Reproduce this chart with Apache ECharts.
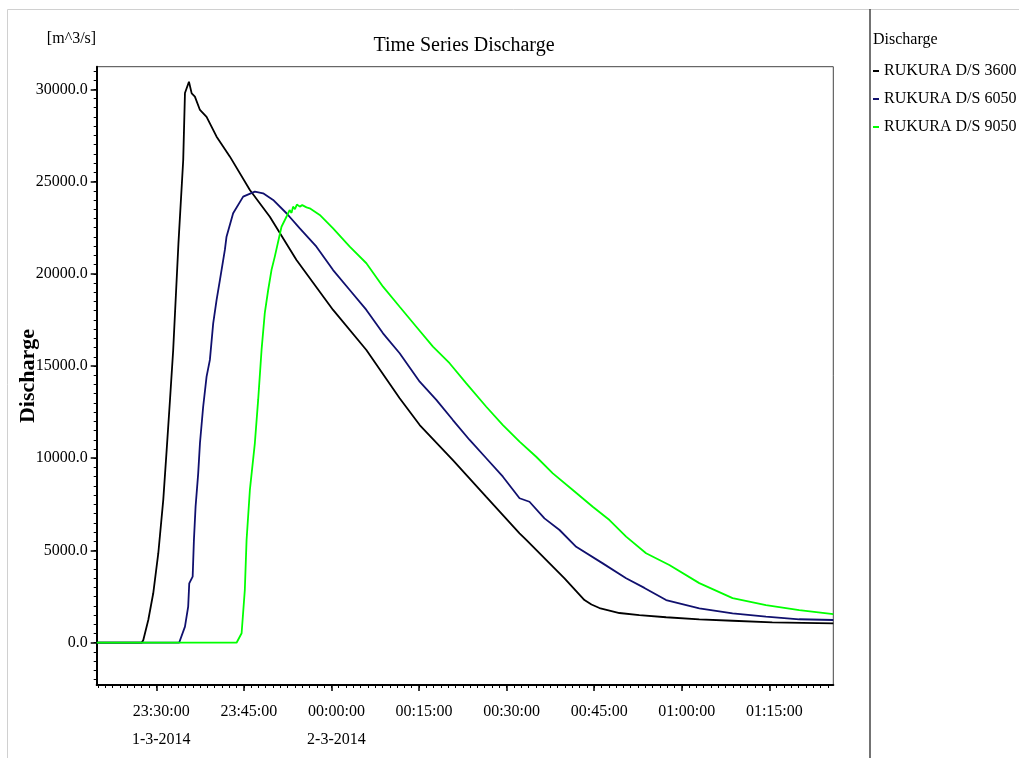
<!DOCTYPE html>
<html><head><meta charset="utf-8">
<script src="https://cdn.jsdelivr.net/npm/echarts@6/dist/echarts.min.js"></script>
<style>html,body{margin:0;padding:0;background:#fff;}#c{width:1019px;height:758px;}</style>
</head><body><div id="c"></div>
<script>
const seriesNames = ["RUKURA D/S 3600", "RUKURA D/S 6050", "RUKURA D/S 9050"];
const seriesColors = ["#000000", "#10106e", "#00ff00"];

const timeBlack = ["23:19:48","23:27:30","23:27:47","23:28:38","23:29:29","23:30:21","23:31:12","23:31:47","23:32:21","23:32:54","23:33:48","23:34:37","23:34:55","23:35:36","23:36:04","23:36:37","23:37:29","23:38:37","23:40:20","23:42:37","23:46:02","23:49:27","23:54:01","00:00:17","00:05:59","00:11:41","00:15:07","00:20:48","00:26:31","00:32:13","00:33:22","00:39:55","00:43:20","00:44:32","00:45:54","00:47:37","00:49:19","00:52:44","00:57:19","01:03:00","01:08:42","01:15:30","01:25:57"];
const valBlack = [0,0,150,1230,2680,4850,7740,10450,13160,15870,21650,26170,29800,30410,29780,29600,28880,28510,27430,26350,24540,23090,20750,18040,15870,13250,11800,9900,7910,5930,5570,3490,2310,2070,1880,1745,1610,1500,1380,1260,1190,1105,1050];

const timeBlue = ["23:19:48","23:33:55","23:34:55","23:35:28","23:35:39","23:36:14","23:36:27","23:36:44","23:37:11","23:37:29","23:38:02","23:38:37","23:39:11","23:39:45","23:40:20","23:40:54","23:41:45","23:42:02","23:43:10","23:44:53","23:46:53","23:48:18","23:50:01","23:52:18","23:54:35","23:57:26","00:00:17","00:03:08","00:05:59","00:08:50","00:11:41","00:15:07","00:17:58","00:20:48","00:23:40","00:26:31","00:29:22","00:32:13","00:33:55","00:36:29","00:39:04","00:41:55","00:46:28","00:50:28","00:53:36","00:57:19","01:03:00","01:08:42","01:14:25","01:20:07","01:25:57"];
const valBlue = [0,0,870,1950,3220,3580,5570,7370,9180,10810,12790,14420,15330,17310,18580,19660,21290,22010,23280,24180,24450,24360,24000,23280,22460,21470,20200,19120,18040,16770,15690,14150,13160,12070,10990,10000,9000,7830,7640,6740,6110,5200,4300,3490,2970,2310,1860,1590,1410,1270,1230];

const timeGreen = ["23:19:48","23:43:45","23:44:37","23:45:10","23:45:28","23:46:02","23:46:53","23:47:27","23:48:02","23:48:35","23:49:10","23:49:44","23:50:18","23:51:27","23:52:18","23:52:50","23:53:10","23:53:26","23:53:45","23:54:05","23:54:35","23:55:00","23:55:44","23:56:17","23:58:00","00:00:17","00:03:08","00:05:59","00:08:50","00:11:41","00:14:32","00:17:23","00:20:14","00:23:06","00:26:31","00:29:22","00:32:13","00:35:04","00:37:55","00:41:20","00:44:45","00:47:37","00:50:28","00:53:53","00:57:52","01:03:00","01:08:42","01:14:25","01:20:07","01:25:57"];
const valGreen = [0,0,510,2860,5570,8280,10810,13160,15870,17860,19120,20200,20930,22550,23090,23450,23300,23640,23500,23750,23640,23720,23600,23550,23190,22460,21470,20570,19300,18210,17130,16050,15150,14060,12790,11800,10900,10080,9180,8280,7370,6650,5750,4850,4210,3230,2420,2040,1770,1550];

const xTickLabels = ["23:30:00","23:45:00","00:00:00","00:15:00","00:30:00","00:45:00","01:00:00","01:15:00"];
const xDateTicks = ["23:30:00","00:00:00"];
const xDateLabels = ["1-3-2014","2-3-2014"];
const yTickValues = [0,5000,10000,15000,20000,25000,30000];
const xRange = ["23:19:48","01:25:57"];
const yRange = [-2293, 31225];
const xMinorStepSec = 75;
const yMinorStep = 500;

const FONT = "Liberation Serif";
function toSec(hms){const p=hms.split(':').map(Number);let v=p[0]*3600+p[1]*60+p[2];if(p[0]<12)v+=86400;return v;}
function pad(n){return (n<10?'0':'')+n;}
function fmt(v){v=Math.round(v);const d=((v%86400)+86400)%86400;return pad(Math.floor(d/3600))+':'+pad(Math.floor(d%3600/60))+':'+pad(d%60);}

const xMin=toSec(xRange[0]), xMax=toSec(xRange[1]);
const xMajor=xTickLabels.map(toSec);
const xMinor=[];
for(let s=Math.ceil(xMin/xMinorStepSec)*xMinorStepSec;s<=xMax;s+=xMinorStepSec){xMinor.push(s);}
const yMinor=[];
for(let v=Math.ceil(yRange[0]/yMinorStep)*yMinorStep;v<=yRange[1];v+=yMinorStep){yMinor.push(v);}

function mk(times,vals){return times.map((t,i)=>[toSec(t),vals[i]]);}
const allData=[mk(timeBlack,valBlack),mk(timeBlue,valBlue),mk(timeGreen,valGreen)];

const chart=echarts.init(document.getElementById('c'),null,{renderer:'canvas'});
const txt={fontFamily:FONT,color:'#000'};
chart.setOption({
  animation:false,
  backgroundColor:'#fff',
  grid:{left:96.7,right:185.7,top:66.7,bottom:73,show:true,borderColor:'#444',borderWidth:1,backgroundColor:'#fff'},
  xAxis:[{
    type:'value',min:xMin,max:xMax,
    axisLine:{show:true,onZero:false,lineStyle:{color:'#000',width:2}},
    axisTick:{show:true,customValues:xMajor,length:6,lineStyle:{color:'#000',width:1.5}},
    axisLabel:Object.assign({customValues:xMajor,fontSize:16,lineHeight:28,margin:13,padding:[0,0,0,10],
      formatter:function(v){const s=fmt(v);const k=xDateTicks.indexOf(s);return k>=0?s+'\n'+xDateLabels[k]:s;}},txt),
    splitLine:{show:false}
  },{
    type:'value',min:xMin,max:xMax,position:'bottom',
    axisLine:{show:false,onZero:false},
    axisTick:{show:true,customValues:xMinor,length:3,lineStyle:{color:'#000',width:1}},
    axisLabel:{show:false},splitLine:{show:false}
  }],
  yAxis:[{
    type:'value',min:yRange[0],max:yRange[1],
    axisLine:{show:true,onZero:false,lineStyle:{color:'#000',width:2}},
    axisTick:{show:true,customValues:yTickValues,length:6,lineStyle:{color:'#000',width:1.5}},
    axisLabel:Object.assign({customValues:yTickValues,fontSize:16,margin:9,formatter:v=>v.toFixed(1)},txt),
    splitLine:{show:false}
  },{
    type:'value',min:yRange[0],max:yRange[1],position:'left',
    axisLine:{show:false,onZero:false},
    axisTick:{show:true,customValues:yMinor,length:3,lineStyle:{color:'#000',width:1}},
    axisLabel:{show:false},splitLine:{show:false}
  }],
  legend:{orient:'vertical',left:873,top:63,padding:0,itemWidth:6,itemHeight:2,itemGap:12,icon:'rect',
    textStyle:{fontFamily:FONT,fontSize:16,color:'#000',lineHeight:16},data:seriesNames},
  series:seriesNames.map((n,i)=>({name:n,type:'line',data:allData[i],showSymbol:false,symbol:'none',
    lineStyle:{color:seriesColors[i],width:1.8},itemStyle:{color:seriesColors[i]},xAxisIndex:0,yAxisIndex:0})),
  graphic:[
    {type:'rect',silent:true,z:0,shape:{x:7.5,y:9.5,width:1030,height:770},style:{fill:null,stroke:'#d0d0d0',lineWidth:1}},
    {type:'line',silent:true,shape:{x1:870,y1:9,x2:870,y2:758},style:{stroke:'#444',lineWidth:1.5}},
    {type:'text',x:464,y:46,style:{text:'Time Series Discharge',font:'20px "Liberation Serif"',fill:'#000',textAlign:'center',textVerticalAlign:'middle'}},
    {type:'text',x:71.5,y:39,style:{text:'[m^3/s]',font:'16px "Liberation Serif"',fill:'#000',textAlign:'center',textVerticalAlign:'middle'}},
    {type:'text',x:28,y:376,rotation:Math.PI/2,style:{text:'Discharge',font:'bold 22px "Liberation Serif"',fill:'#000',textAlign:'center',textVerticalAlign:'middle'}},
    {type:'text',x:873,y:40,style:{text:'Discharge',font:'16px "Liberation Serif"',fill:'#000',textAlign:'left',textVerticalAlign:'middle'}}
  ]
});
</script></body></html>
